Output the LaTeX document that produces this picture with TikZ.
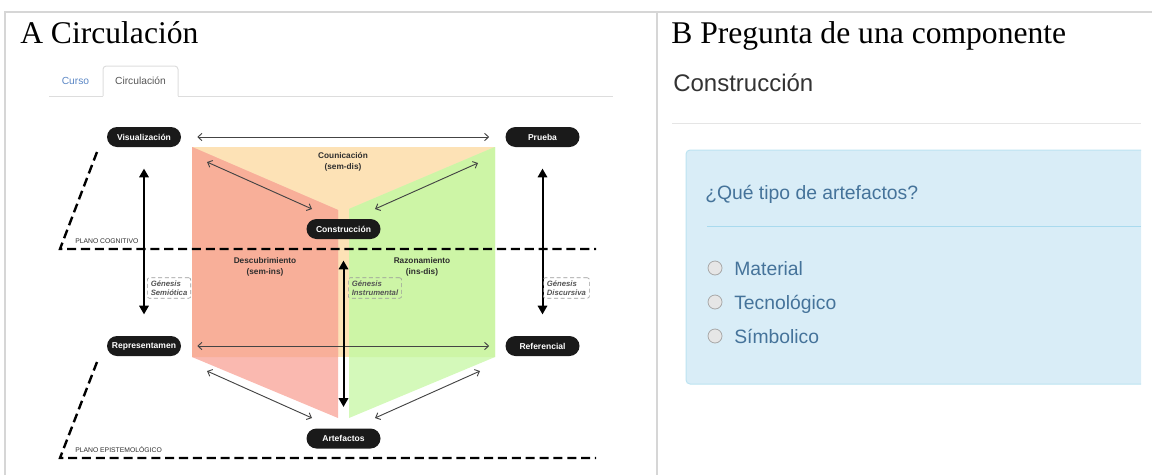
\documentclass[tikz,border=0pt]{standalone}
\usepackage{fontspec}
\setmainfont{Liberation Serif}
\newfontfamily\arialf{Liberation Sans}
\usetikzlibrary{arrows.meta}

\newcommand\setfs[2]{\fontsize{#1}{#2}\selectfont}

\definecolor{frameline}{HTML}{D6D6D6}
\definecolor{pillblack}{HTML}{1A1A1A}
\definecolor{peach}{HTML}{FDE2B6}
\definecolor{salmontop}{HTML}{F8AF99}
\definecolor{salmonlow}{HTML}{FAB9B0}
\definecolor{greentop}{HTML}{CDF5A6}
\definecolor{greenlow}{HTML}{D4F9BA}
\definecolor{arrowgray}{HTML}{444444}
\definecolor{labeldark}{HTML}{2E2E2E}
\definecolor{genesisgray}{HTML}{555555}
\definecolor{tabline}{HTML}{DDDDDD}
\definecolor{tabblue}{HTML}{5B87C5}
\definecolor{tabgray}{HTML}{555555}
\definecolor{infobg}{HTML}{D9EDF7}
\definecolor{infoborder}{HTML}{BCE3F1}
\definecolor{infoline}{HTML}{A9DAEE}
\definecolor{qtext}{HTML}{45739A}
\definecolor{radiofill}{HTML}{E6E6E6}
\definecolor{radioedge}{HTML}{A8A8A8}

\begin{document}
\begin{tikzpicture}[x=0.75pt,y=-0.75pt,
  pill/.style={fill=pillblack, rounded corners=7.5pt, minimum width=55.5pt,
    minimum height=15pt, inner sep=0pt, text=white,
    font=\arialf\bfseries\setfs{6.4}{7.5}},
  title/.style={inner sep=0pt, font=\setfs{23.7}{28}},
  zonelabel/.style={align=center, text=labeldark, inner sep=0pt,
    font=\arialf\bfseries\setfs{6.2}{8}},
  genesis/.style={draw=gray!80, densely dashed, line width=0.45pt,
    rounded corners=1.5pt, align=left, text=genesisgray, anchor=west,
    inner xsep=2.6pt, inner ysep=2pt,
    font=\arialf\bfseries\itshape\setfs{5.8}{7}},
  planolabel/.style={anchor=west, inner sep=0pt, text=labeldark,
    font=\arialf\setfs{5.1}{6}},
  thinarrow/.style={draw=arrowgray, line width=0.7pt,
    arrows={Straight Barb[length=3pt,width=5.5pt]-Straight Barb[length=3pt,width=5.5pt]}},
  thickarrow/.style={draw=black, line width=1.5pt,
    arrows={Triangle[length=6.5pt,width=7pt]-Triangle[length=6.5pt,width=7pt]},
    shorten <=16pt, shorten >=16pt},
  planeline/.style={draw=black, line width=1.8pt, dash pattern=on 6.8pt off 3.6pt},
  radio/.style={circle, draw=radioedge, fill=radiofill, line width=0.6pt,
    minimum size=10.5pt, inner sep=0pt},
  option/.style={anchor=base west, inner sep=0pt, text=qtext,
    font=\arialf\setfs{14.5}{17}}
]
\useasboundingbox (0,0) rectangle (1152,475);

% table frame
\draw[frameline, line width=1.5pt] (5,475) -- (5,12) -- (1152,12);
\draw[frameline, line width=1.5pt] (657,12) -- (657,475);

% panel titles
\node[title, anchor=base west] (ta) at (20,43) {A Circulación};
\node[title, anchor=base west] (tb) at (671,43) {B Pregunta de una componente};

% tab bar
\draw[tabline, line width=0.75pt] (49,96) -- (103,96);
\draw[tabline, line width=0.75pt] (178,96) -- (613,96);
\draw[tabline, line width=0.75pt, rounded corners=2.5pt] (103,96) -- (103,66) -- (178,66) -- (178,96);
\node[text=tabblue, font=\arialf\setfs{7.7}{9}] (tab1) at (75.5,81) {Curso};
\node[text=tabgray, font=\arialf\setfs{7.7}{9}] (tab2) at (140.5,81) {Circulación};

% coloured zones
\fill[peach] (192,147) rectangle (495,357);
\fill[salmonlow] (192,147) -- (338,210) -- (338,418) -- (192,357) -- cycle;
\fill[salmontop] (192,147) -- (338,210) -- (338,357) -- (192,357) -- cycle;
\fill[greenlow] (495,147) -- (349,209) -- (349,418) -- (495,357) -- cycle;
\fill[greentop] (495,147) -- (349,209) -- (349,357) -- (495,357) -- cycle;

\node[zonelabel] (zcom) at (343,162) {Counicación\\(sem-dis)};
\node[zonelabel] (zdes) at (265,267) {Descubrimiento\\(sem-ins)};
\node[zonelabel] (zraz) at (422,267) {Razonamiento\\(ins-dis)};

% planes
\coordinate (pc1) at (97,152);
\coordinate (pc2) at (60,249);
\coordinate (pc3) at (596,249);
\coordinate (pe1) at (97,362);
\coordinate (pe2) at (60,458);
\coordinate (pe3) at (596,458);
\draw[planeline] (pc1) -- (pc2) -- (pc3);
\draw[planeline] (pe1) -- (pe2) -- (pe3);
\node[planolabel] (lcog) at (75,241) {PLANO COGNITIVO};
\node[planolabel] (lepi) at (75,450) {PLANO EPISTEMOLÓGICO};

% poles
\node[pill] (vis) at (144,137) {Visualización};
\node[pill] (pru) at (542.5,137) {Prueba};
\node[pill] (con) at (343.5,229) {Construcción};
\node[pill] (rep) at (144,346) {Representamen};
\node[pill] (ref) at (542.5,346) {Referencial};
\node[pill] (art) at (343.5,438.5) {Artefactos};

% horizontal links
\draw[thinarrow, shorten <=12pt, shorten >=12pt] (vis.east) -- (pru.west);
\draw[thinarrow, shorten <=12pt, shorten >=12pt] (rep.east) -- (ref.west);

% diagonal links
\coordinate (dvA) at (207,162);
\coordinate (dvB) at (312,209);
\coordinate (dpA) at (478,163);
\coordinate (dpB) at (375,209);
\coordinate (drA) at (207,371);
\coordinate (drB) at (312,418);
\coordinate (dfA) at (480,371);
\coordinate (dfB) at (375,418);
\draw[thinarrow] (dvA) -- (dvB);
\draw[thinarrow] (dpA) -- (dpB);
\draw[thinarrow] (drA) -- (drB);
\draw[thinarrow] (dfA) -- (dfB);

% genesis axes
\draw[thickarrow] (vis.south) -- (rep.north);
\draw[thickarrow] (con.south) -- (art.north);
\draw[thickarrow] (pru.south) -- (ref.north);

\node[genesis] (gsem) at (147,288) {Génesis\\Semiótica};
\node[genesis] (gins) at (348,288) {Génesis\\Instrumental};
\node[genesis] (gdis) at (543,288) {Génesis\\Discursiva};

% panel B: question card
\node[anchor=base west, inner sep=0pt, text=black!80, font=\arialf\setfs{18}{21}] (qhead) at (673,91) {Construcción};
\draw[black!10, line width=0.75pt] (672,123) -- (1141,123);

\draw[infoborder, fill=infobg, line width=0.75pt, rounded corners=3pt]
  (1141,150) -- (686,150) -- (686,384) -- (1141,384);
\node[anchor=base west, inner sep=0pt, text=qtext, font=\arialf\setfs{14.5}{17}] (qtitle) at (705,199) {¿Qué tipo de artefactos?};
\draw[infoline, line width=0.75pt] (707,226) -- (1141,226);

\node[radio] (r1) at (715,268) {};
\node[radio] (r2) at (715,302) {};
\node[radio] (r3) at (715,336) {};
\node[option] (o1) at (734,275) {Material};
\node[option] (o2) at (734,309) {Tecnológico};
\node[option] (o3) at (734,343) {Símbolico};
\end{tikzpicture}
\end{document}
